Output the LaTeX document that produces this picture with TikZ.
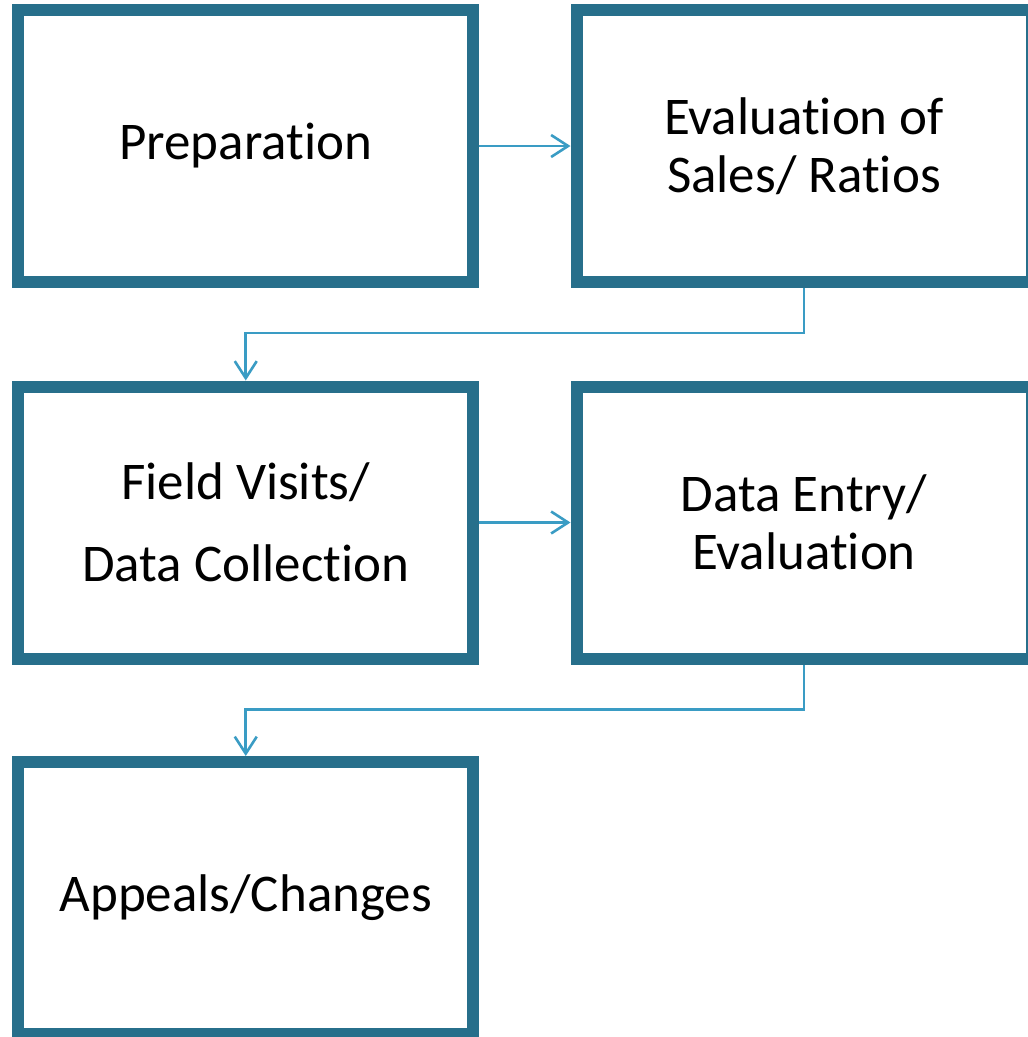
\documentclass[tikz,border=0pt]{standalone}
\usepackage{fontspec}
\setmainfont{Carlito}[Ligatures=NoCommon]
\usetikzlibrary{arrows.meta}
\definecolor{boxc}{HTML}{276F8B}
\definecolor{linkc}{HTML}{3A9CC4}
\begin{document}
\begin{tikzpicture}[x=1pt,y=1pt,
  stepbox/.style={draw=boxc,line width=12pt,minimum width=455pt,minimum height=272pt,
    align=center,font=\fontsize{53}{58}\selectfont,inner sep=0pt},
  link/.style={draw=linkc,line width=2.6pt,-{Straight Barb[length=17pt,width=22pt,line width=2.6pt]}}]
\useasboundingbox (0,0) rectangle (1028,-1037);
\node[stepbox] (b1) at (245.75,-146) {Preparation};
\node[stepbox] (b2) at (804,-146) {Evaluation of\\Sales/ Ratios};
\node[stepbox] (b3) at (245.75,-522.5) {Field Visits/\\[24pt]Data Collection};
\node[stepbox] (b4) at (804,-522.5) {Data Entry/\\Evaluation};
\node[stepbox] (b5) at (245.75,-898) {Appeals/Changes};
\draw[link] (b1) -- (b2);
\draw[link] (b3) -- (b4);
\draw[link] (b2.south) -- ++(0,-45) -| (b3.north);
\draw[link] (b4.south) -- ++(0,-45) -| (b5.north);
\end{tikzpicture}
\end{document}
